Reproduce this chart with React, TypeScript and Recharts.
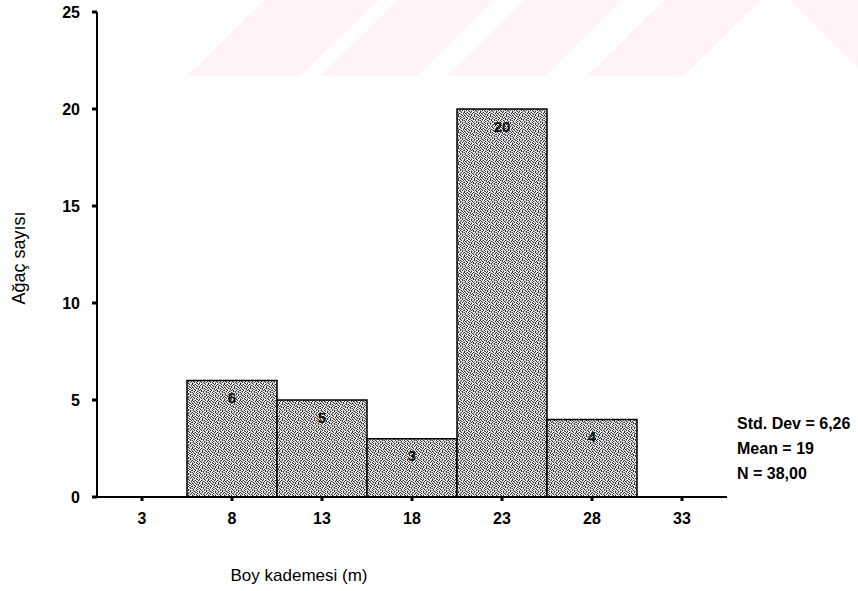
import React from 'react';
import { BarChart, Bar, XAxis, YAxis, LabelList } from 'recharts';

// histogram bins (class centres, m) and tree counts
const binCenters = [8, 13, 18, 23, 28];
const treeCounts = [6, 5, 3, 20, 4];
const xTicks = [3, 8, 13, 18, 23, 28, 33];
const yTicks = [0, 5, 10, 15, 20, 25];
const statLines = ['Std. Dev = 6,26', 'Mean = 19', 'N = 38,00'];

const data = binCenters.map((x, i) => ({ x, count: treeCounts[i] }));

const FONT = '"Liberation Sans", Arial, sans-serif';

// stipple texture for the bars (16x16 tile): # dark, o mid, . light
const TEXTURE = [
    '#.o#..#o.#o..#.o',
    '.#o.#o..#.o#o..#',
    'o.#..#o#..#.o#.o',
    '#o.#o..#o.#..o#.',
    '.#..#o#..o#o#..#',
    'o.#o..#.#..o.#o.',
    '#..#.o.#o#..#..#',
    '.o#..#o..#o#.o#.',
    '#.o.#..#o..#..#o',
    '.#.o.#o.#.o.#o..',
    'o#..#..o.#..#.#o',
    '.o#o.#.#o.#o..#.',
    '#..#o..#..#.o#.o',
    '.#o..#o.#o..#..#',
    'o.#.#..o.#.#o.#.',
    '#o..o#.#..o.#o..',
];
const shade: Record<string, string> = { '#': '#333', o: '#a0a0a0', '.': '#f2f2f2' };

const StippleDefs = () => (
    <svg width={0} height={0} style={{ position: 'absolute' }}>
        <defs>
            <pattern id="stipple" width={16} height={16} patternUnits="userSpaceOnUse">
                <rect x={0} y={0} width={16} height={16} fill="#a0a0a0" />
                {TEXTURE.map((row, r) =>
                    row.split('').map((c, k) => (
                        <rect key={`${r}-${k}`} x={k} y={r} width={1} height={1} fill={shade[c]} />
                    ))
                )}
            </pattern>
        </defs>
    </svg>
);

// faint pink diagonal watermark behind the plot
const Watermark = () => (
    <svg width={858} height={591} style={{ position: 'absolute', left: 0, top: 0 }}>
        <g fill="#fef3f5">
            <polygon points="187,76 300,76 378,0 265,0" />
            <polygon points="320,76 417,76 495,0 398,0" />
            <polygon points="447,76 545,76 623,0 525,0" />
            <polygon points="587,76 683,76 761,0 665,0" />
            <polygon points="790,0 858,0 858,68" />
        </g>
    </svg>
);

export default function App() {
    return (
        <div style={{ position: 'absolute', left: 0, top: 0, width: 858, height: 591, background: '#fff' }}>
            <StippleDefs />
            <Watermark />
            <div style={{ position: 'absolute', left: 0, top: 0 }}>
                <BarChart
                    width={858}
                    height={591}
                    data={data}
                    margin={{ top: 12, right: 131, left: 0, bottom: 0 }}
                    barCategoryGap={0}
                    barGap={0}
                >
                    <XAxis
                        dataKey="x"
                        type="number"
                        domain={[0.5, 35.5]}
                        ticks={xTicks}
                        interval={0}
                        height={94}
                        axisLine={{ stroke: '#000', strokeWidth: 2 }}
                        tickLine={{ stroke: '#000', strokeWidth: 3 }}
                        tickSize={4}
                        tick={{ fontSize: 16, fontWeight: 700, fill: '#000', fontFamily: FONT, dy: 10 }}
                        label={{
                            content: ({ viewBox }: any) => (
                                <text
                                    x={viewBox.x + 202}
                                    y={viewBox.y + 84}
                                    textAnchor="middle"
                                    fontSize={17}
                                    fontFamily={FONT}
                                    fill="#000"
                                >
                                    Boy kademesi (m)
                                </text>
                            ),
                        }}
                    />
                    <YAxis
                        type="number"
                        domain={[0, 25]}
                        ticks={yTicks}
                        interval={0}
                        width={97}
                        axisLine={{ stroke: '#000', strokeWidth: 2 }}
                        tickLine={{ stroke: '#000', strokeWidth: 3 }}
                        tickSize={5}
                        tick={{ fontSize: 16, fontWeight: 700, fill: '#000', fontFamily: FONT, dx: -10 }}
                        label={{
                            content: () => (
                                <text
                                    x={19}
                                    y={258}
                                    transform="rotate(-90, 19, 258)"
                                    textAnchor="middle"
                                    dominantBaseline="central"
                                    fontSize={18}
                                    fontFamily={FONT}
                                    fill="#000"
                                >
                                    Ağaç sayısı
                                </text>
                            ),
                        }}
                    />
                    <Bar
                        dataKey="count"
                        fill="url(#stipple)"
                        stroke="#000"
                        strokeWidth={1.5}
                        isAnimationActive={false}
                    >
                        <LabelList
                            dataKey="count"
                            position="insideTop"
                            offset={12}
                            style={{ fontSize: 15, fontWeight: 700, fill: '#111', fontFamily: FONT }}
                        />
                    </Bar>
                </BarChart>
            </div>
            <div
                style={{
                    position: 'absolute',
                    left: 737,
                    top: 411,
                    fontFamily: FONT,
                    fontSize: 16,
                    fontWeight: 700,
                    lineHeight: '25px',
                    color: '#000',
                    whiteSpace: 'nowrap',
                }}
            >
                {statLines.map((s) => (
                    <div key={s}>{s}</div>
                ))}
            </div>
        </div>
    );
}
